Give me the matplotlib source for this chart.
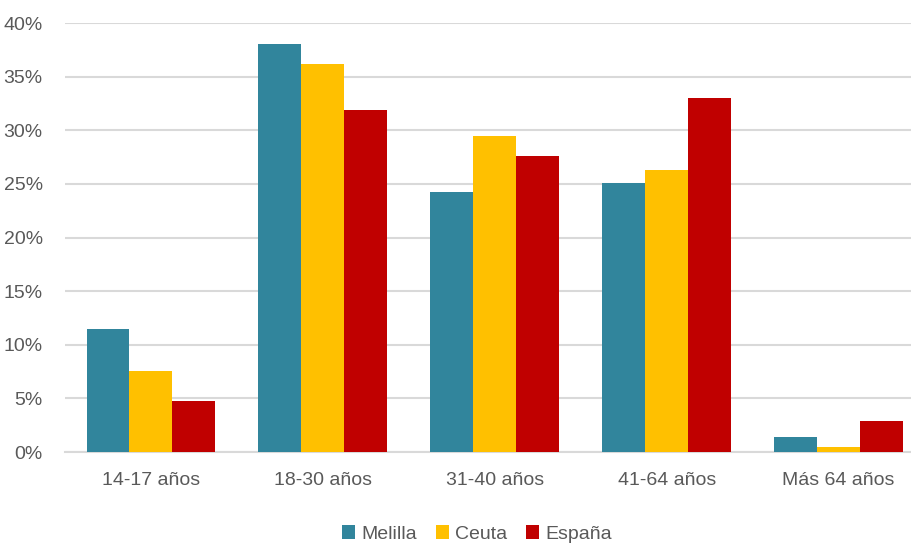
import matplotlib
matplotlib.use("Agg")
import matplotlib.pyplot as plt
import numpy as np
from matplotlib import font_manager

names = {f.name for f in font_manager.fontManager.ttflist}
fam = ['Liberation Sans Narrow', 'Liberation Sans', 'DejaVu Sans'] if 'Liberation Sans Narrow' in names else ['Liberation Sans', 'DejaVu Sans']
plt.rcParams['font.family'] = fam

categories = ["14-17 años", "18-30 años", "31-40 años", "41-64 años", "Más 64 años"]
series = ["Melilla", "Ceuta", "España"]
melilla = [11.5, 38.0, 24.2, 25.1, 1.4]
ceuta = [7.6, 36.2, 29.5, 26.3, 0.5]
espana = [4.8, 31.9, 27.6, 33.0, 2.9]
yticks = [0, 5, 10, 15, 20, 25, 30, 35, 40]
colors = ["#31859C", "#FFC000", "#C00000"]

fig = plt.figure(figsize=(9.12, 5.44), dpi=100)
ax = fig.add_axes([0.0713, 0.169, 0.9425, 0.7887])
x = np.arange(len(categories))
w = 0.25
for i, (vals, name, c) in enumerate(zip([melilla, ceuta, espana], series, colors)):
    ax.bar(x + (i - 1) * w, vals, width=w, color=c, label=name, zorder=3)

ax.set_xlim(-0.5, len(categories) - 0.5)
ax.set_ylim(0, 40)
ax.set_yticks(yticks)
ax.set_yticklabels([f"{t}%" for t in yticks])
ax.set_xticks(x)
ax.set_xticklabels(categories)
ax.yaxis.grid(True, color="#D9D9D9", linewidth=1.5, zorder=0)
for s in ["top", "right", "left"]:
    ax.spines[s].set_visible(False)
ax.spines["bottom"].set_color("#D9D9D9")
ax.spines["bottom"].set_linewidth(1.5)
ax.tick_params(axis="both", length=0, labelsize=14, colors="#595959")
ax.tick_params(axis="x", pad=14)
ax.tick_params(axis="y", pad=16)

leg = fig.legend(loc="lower center", bbox_to_anchor=(0.523, -0.03), ncol=3, frameon=False,
                 fontsize=14, handlelength=0.67, handleheight=0.67, handletextpad=0.3,
                 columnspacing=1.0)
for t in leg.get_texts():
    t.set_color("#595959")

fig.savefig("out.png", dpi=100)
